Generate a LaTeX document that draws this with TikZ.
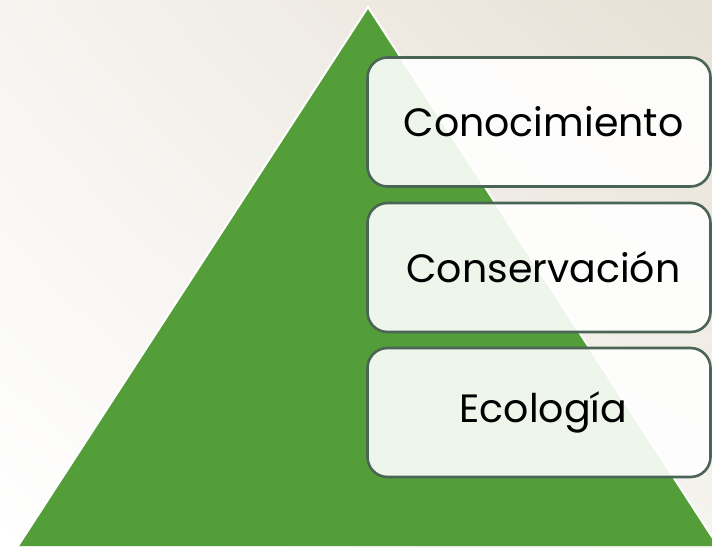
\documentclass[tikz,border=0pt]{standalone}
\usepackage{fontspec}
\setmainfont{Poppins}
\usetikzlibrary{shadings}
\definecolor{leafgreen}{HTML}{549E39}
\definecolor{boxline}{HTML}{4A6456}
\definecolor{beige}{HTML}{E6E0D5}
\definecolor{paleish}{HTML}{F6F4F0}
\newcommand{\lvltext}[1]{\hspace*{9pt}#1}
\begin{document}
\begin{tikzpicture}[x=1pt,y=-1pt,
  levelbox/.style={draw=boxline,line width=2.6pt,fill=white,fill opacity=0.9,text opacity=1,
    rounded corners=20pt,minimum width=343pt,minimum height=129pt,inner sep=0pt,
    font=\fontsize{39.5}{46}\selectfont,text=black}]
\useasboundingbox (0,0) rectangle (712,548);
\shade[upper left=paleish,upper right=beige,lower left=white,lower right=paleish] (0,0) rectangle (712,548);
\fill[leafgreen] (368,7) -- (718,546) -- (18,546) -- cycle;
\draw[white,line width=2pt] (18,546) -- (368,7) -- (718,546);
\node[levelbox] (k) at (539,122) {\lvltext{Conocimiento}};
\node[levelbox] (c) at (539,267.5) {\lvltext{Conservación}};
\node[levelbox] (e) at (539,412.5) {\lvltext{Ecología}};
\end{tikzpicture}
\end{document}
